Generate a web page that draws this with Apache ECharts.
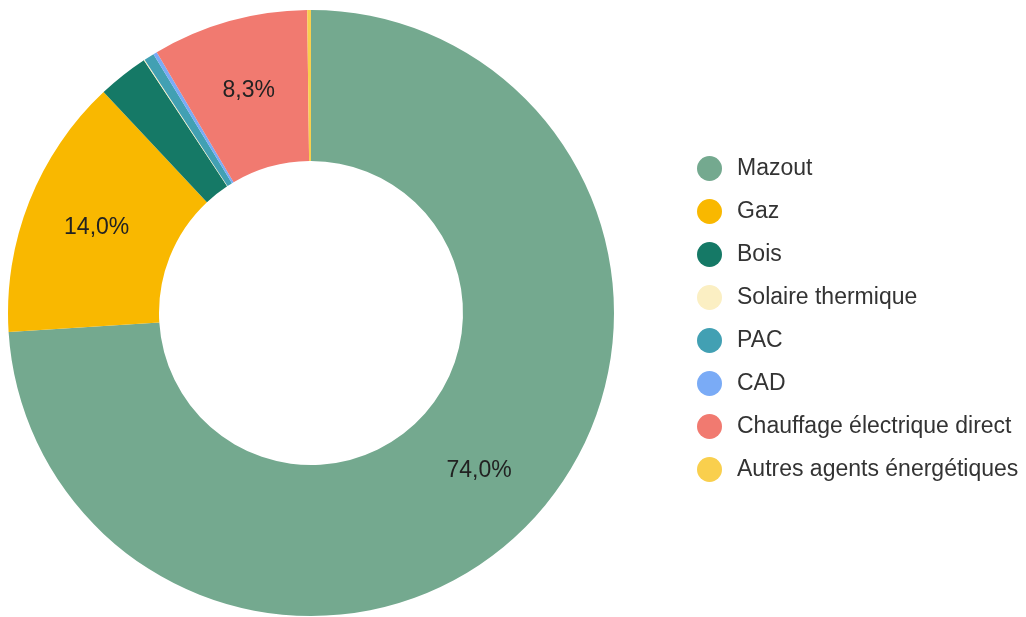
<!DOCTYPE html>
<html>
<head>
<meta charset="utf-8">
<script src="https://cdn.jsdelivr.net/npm/echarts@6/dist/echarts.min.js"></script>
<style>
  html, body { margin: 0; padding: 0; background: #fff; }
  #main { width: 1026px; height: 617px; }
</style>
</head>
<body>
<div id="main"></div>
<script>
const categories = [
  "Mazout",
  "Gaz",
  "Bois",
  "Solaire thermique",
  "PAC",
  "CAD",
  "Chauffage électrique direct",
  "Autres agents énergétiques",
];
const values = [74.0, 14.0, 2.7, 0.05, 0.55, 0.2, 8.3, 0.2];
const colors = ["#74a98f", "#f9b800", "#157966", "#fbefc3", "#42a0b3", "#7aabf6", "#f17a70", "#f9cf4d"];

const myChart = echarts.init(document.getElementById("main"));
myChart.setOption({
  animation: false,
  color: colors,
  textStyle: { fontFamily: "'Liberation Sans', Arial, sans-serif" },
  legend: {
    orient: "vertical",
    left: 692,
    top: 151,
    icon: "circle",
    itemWidth: 25,
    itemHeight: 25,
    itemGap: 18,
    itemStyle: { borderWidth: 0 },
    textStyle: { fontSize: 23, color: "#333", padding: [0, 0, 0, 10] },
    data: categories,
  },
  series: [
    {
      type: "pie",
      center: [311, 313],
      radius: [152, 303],
      startAngle: 90,
      clockwise: true,
      avoidLabelOverlap: false,
      itemStyle: { borderWidth: 0 },
      label: {
        position: "inside",
        color: "#222",
        fontSize: 23,
        formatter: (p) => (p.value >= 5 ? p.value.toFixed(1).replace(".", ",") + "%" : ""),
      },
      labelLine: { show: false },
      emphasis: { disabled: true },
      data: categories.map((name, i) => ({ name: name, value: values[i] })),
    },
  ],
});
</script>
</body>
</html>
